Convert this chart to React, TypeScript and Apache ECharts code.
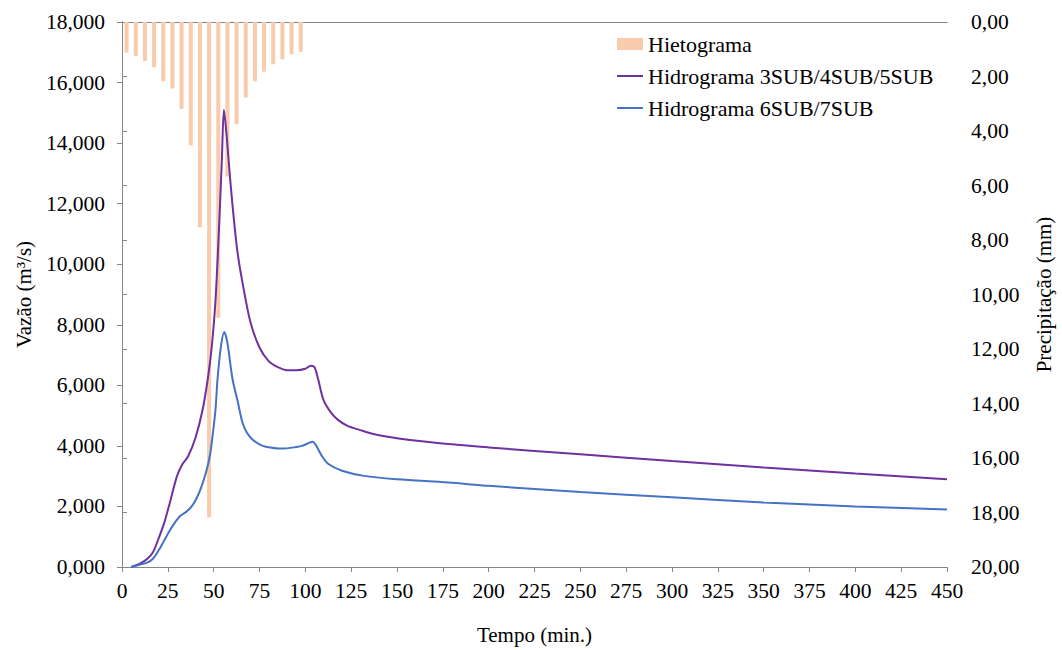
import React, { useEffect, useRef } from "react";
import * as echarts from "echarts";

// Hietograma: time (min) and precipitation (mm)
const rainTimes = [2.5, 7.5, 12.5, 17.5, 22.5, 27.5, 32.5, 37.5, 42.5, 47.5, 52.5, 57.5, 62.5, 67.5, 72.5, 77.5, 82.5, 87.5, 92.5, 97.5];
const rainValues = [1.12, 1.25, 1.43, 1.66, 2.17, 2.44, 3.19, 4.53, 7.53, 18.18, 10.85, 5.67, 3.75, 2.77, 2.17, 1.82, 1.55, 1.37, 1.18, 1.09];

// Hidrograma 3SUB/4SUB/5SUB: time (min) and flow (m³/s)
const h1Times = [5, 10, 14, 17, 20, 23, 26, 30, 33, 36, 40, 44, 47, 49, 51, 53, 54.5, 55.6, 57, 59, 61, 63, 65.7, 70, 75, 80, 85, 90, 95, 100, 103, 105, 107, 110, 114, 118, 123, 130, 136, 145, 156, 178, 200, 250, 300, 350, 400, 450];
const h1Values = [0, 0.12, 0.28, 0.5, 0.95, 1.45, 2.1, 3.0, 3.4, 3.65, 4.25, 5.2, 6.3, 7.3, 8.8, 11.3, 13.5, 15.1, 14.3, 12.8, 11.5, 10.4, 9.4, 8.1, 7.25, 6.8, 6.6, 6.5, 6.5, 6.55, 6.65, 6.6, 6.2, 5.5, 5.1, 4.85, 4.66, 4.52, 4.41, 4.3, 4.2, 4.06, 3.95, 3.72, 3.5, 3.29, 3.09, 2.9];

// Hidrograma 6SUB/7SUB
const h2Times = [5, 10, 14, 17, 20, 22.5, 26, 29.6, 32, 35, 38, 40.4, 43, 45.8, 48, 49.4, 51, 52.1, 54, 55.8, 57.5, 60.3, 63, 65.7, 68, 71, 75, 78.4, 87, 95, 98, 101, 104, 106, 109, 112.6, 120, 132, 150, 178, 200, 250, 300, 350, 400, 450];
const h2Values = [0, 0.08, 0.15, 0.28, 0.55, 0.82, 1.2, 1.53, 1.7, 1.82, 2.0, 2.24, 2.6, 3.12, 3.7, 4.33, 5.2, 6.2, 7.3, 7.76, 7.4, 6.2, 5.5, 4.77, 4.45, 4.22, 4.05, 3.97, 3.91, 3.96, 4.0, 4.07, 4.14, 4.0, 3.67, 3.4, 3.18, 3.01, 2.9, 2.79, 2.68, 2.48, 2.3, 2.13, 2.0, 1.9];

const seriesNames = ["Hietograma", "Hidrograma 3SUB/4SUB/5SUB", "Hidrograma 6SUB/7SUB"];

const FONT = "'Liberation Serif', 'Times New Roman', Times, serif";
const AXIS_COLOR = "#868686";

export default function App() {
  const ref = useRef<HTMLDivElement>(null);
  useEffect(() => {
    if (!ref.current) return;
    const chart = echarts.init(ref.current, undefined, { renderer: "svg" });
    const tickText = { fontFamily: FONT, fontSize: 21.5, color: "#000" };
    const nameText = { fontFamily: FONT, fontSize: 21, color: "#000" };
    const legendText = { fontFamily: FONT, fontSize: 22, color: "#000" };
    chart.setOption({
      animation: false,
      textStyle: { fontFamily: FONT },
      grid: { left: 122, right: 110, top: 22, bottom: 82, containLabel: false },
      legend: [
        {
          orient: "vertical",
          left: 617,
          top: 33,
          padding: 0,
          itemWidth: 26,
          itemHeight: 12,
          textStyle: legendText,
          data: [{ name: seriesNames[0], icon: "rect" }],
        },
        {
          orient: "vertical",
          left: 617,
          top: 65,
          padding: 0,
          itemWidth: 26,
          itemHeight: 2,
          itemGap: 10,
          textStyle: legendText,
          data: [
            { name: seriesNames[1], icon: "rect" },
            { name: seriesNames[2], icon: "rect" },
          ],
        },
      ],
      xAxis: [
        {
          type: "value",
          min: 0,
          max: 450,
          interval: 25,
          position: "bottom",
          name: "Tempo (min.)",
          nameLocation: "middle",
          nameGap: 57,
          nameTextStyle: nameText,
          axisLine: { lineStyle: { color: AXIS_COLOR, width: 1 } },
          axisTick: { show: true, length: 5, inside: false, lineStyle: { color: AXIS_COLOR } },
          axisLabel: { ...tickText, margin: 13 },
          splitLine: { show: false },
        },
        {
          type: "value",
          min: 0,
          max: 450,
          position: "top",
          axisLine: { show: true, onZero: false, lineStyle: { color: AXIS_COLOR, width: 1 } },
          axisTick: { show: false },
          axisLabel: { show: false },
          splitLine: { show: false },
        },
      ],
      yAxis: [
        {
          type: "value",
          min: 0,
          max: 18,
          interval: 2,
          position: "left",
          name: "Vazão (m³/s)",
          nameLocation: "middle",
          nameRotate: 90,
          nameGap: 87,
          nameTextStyle: nameText,
          axisLine: { show: true, lineStyle: { color: AXIS_COLOR, width: 1 } },
          axisTick: { show: true, length: 5, lineStyle: { color: AXIS_COLOR } },
          axisLabel: {
            ...tickText,
            margin: 17,
            formatter: (v: number) => v.toFixed(3).replace(".", ","),
          },
          splitLine: { show: false },
        },
        {
          type: "value",
          min: 0,
          max: 20,
          interval: 2,
          inverse: true,
          position: "right",
          name: "Precipitação (mm)",
          nameLocation: "middle",
          nameRotate: 90,
          nameGap: 86,
          nameTextStyle: nameText,
          axisLine: { show: true, lineStyle: { color: AXIS_COLOR, width: 1 } },
          axisTick: { show: true, length: 5, lineStyle: { color: AXIS_COLOR } },
          axisLabel: {
            ...tickText,
            margin: 24,
            formatter: (v: number) => v.toFixed(2).replace(".", ","),
          },
          splitLine: { show: false },
        },
      ],
      series: [
        {
          name: seriesNames[0],
          type: "bar",
          xAxisIndex: 0,
          yAxisIndex: 1,
          barWidth: 4,
          itemStyle: { color: "#F8CBAD" },
          data: rainTimes.map((t, i) => [t, rainValues[i]]),
          z: 1,
        },
        {
          name: seriesNames[1],
          type: "line",
          xAxisIndex: 0,
          yAxisIndex: 0,
          symbol: "none",
          smooth: 0.3,
          lineStyle: { color: "#7030A0", width: 2 },
          itemStyle: { color: "#7030A0" },
          data: h1Times.map((t, i) => [t, h1Values[i]]),
          z: 3,
        },
        {
          name: seriesNames[2],
          type: "line",
          xAxisIndex: 0,
          yAxisIndex: 0,
          symbol: "none",
          smooth: 0.3,
          lineStyle: { color: "#4472C4", width: 2 },
          itemStyle: { color: "#4472C4" },
          data: h2Times.map((t, i) => [t, h2Values[i]]),
          z: 3,
        },
      ],
    });
    return () => chart.dispose();
  }, []);
  return (
    <div
      ref={ref}
      style={{ position: "fixed", left: 0, top: 0, width: 1062, height: 650, background: "#fff" }}
    />
  );
}
